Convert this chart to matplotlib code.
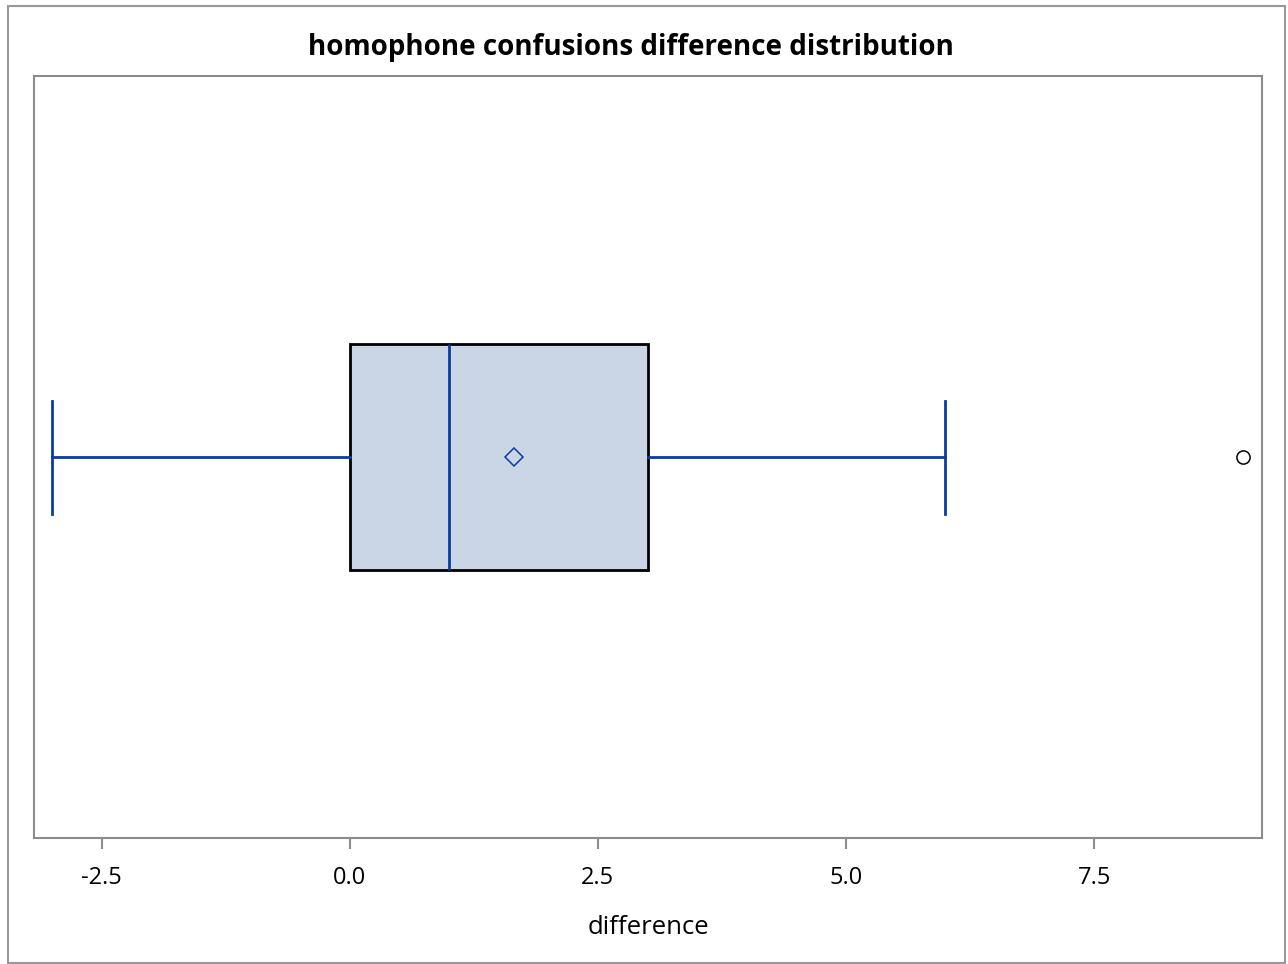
import matplotlib
matplotlib.use("Agg")
import matplotlib.pyplot as plt
from matplotlib.patches import Rectangle

# Data
whisker_low = -3.0
q1 = 0.0
median = 1.0
q3 = 3.0
whisker_high = 6.0
mean = 1.65
outliers = [9.0]
tick_values = [-2.5, 0.0, 2.5, 5.0, 7.5]
tick_labels = ["-2.5", "0.0", "2.5", "5.0", "7.5"]

plt.rcParams['font.family'] = ['Open Sans', 'DejaVu Sans']

W, H = 1288, 964
fig = plt.figure(figsize=(W / 100, H / 100), dpi=100)
ax = fig.add_axes([34 / W, 1 - 838 / H, (1262 - 34) / W, (838 - 76) / H])

blue = "#0A3CA0"
stats = [dict(whislo=whisker_low, q1=q1, med=median, q3=q3, whishi=whisker_high,
              mean=mean, fliers=outliers)]
box_h = 226 / 762
lw = 2.0
ax.bxp(stats, positions=[0.5], widths=box_h, vert=False, patch_artist=True,
       showmeans=True, showfliers=True,
       boxprops=dict(facecolor="#CAD5E6", edgecolor="black", linewidth=lw),
       medianprops=dict(color=blue, linewidth=lw),
       whiskerprops=dict(color=blue, linewidth=lw),
       capprops=dict(color=blue, linewidth=lw),
       capwidths=box_h / 2,
       meanprops=dict(marker="D", markerfacecolor="none", markeredgecolor=blue,
                      markersize=9.5, markeredgewidth=1.1),
       flierprops=dict(marker="o", markerfacecolor="none", markeredgecolor="black",
                       markersize=9.5, markeredgewidth=1.1))

x0 = -3.0 - (52 - 34) / 99.6
x1 = 9.0 + (1262 - 1243) / 99.6
ax.set_xlim(x0, x1)
ax.set_ylim(0, 1)
ax.set_yticks([])
ax.set_xticks(tick_values)
ax.set_xticklabels(tick_labels)
ax.tick_params(axis="x", length=8, width=1.5, color="#8c8c8c", labelsize=17, pad=12)
for s in ax.spines.values():
    s.set_color("#8c8c8c")
    s.set_linewidth(1.5)

ax.set_xlabel("difference", fontsize=18.5, labelpad=18)
fig.text(631 / W, 1 - 47 / H, "homophone confusions difference distribution",
         ha="center", va="center", fontsize=20, fontweight="bold")

fig.patches.append(Rectangle((8 / W, 1 - 963 / H), (1285 - 8) / W, (963 - 6) / H,
                             transform=fig.transFigure, fill=False,
                             edgecolor="#999999", linewidth=1.5))

fig.savefig("out.png", dpi=100)
